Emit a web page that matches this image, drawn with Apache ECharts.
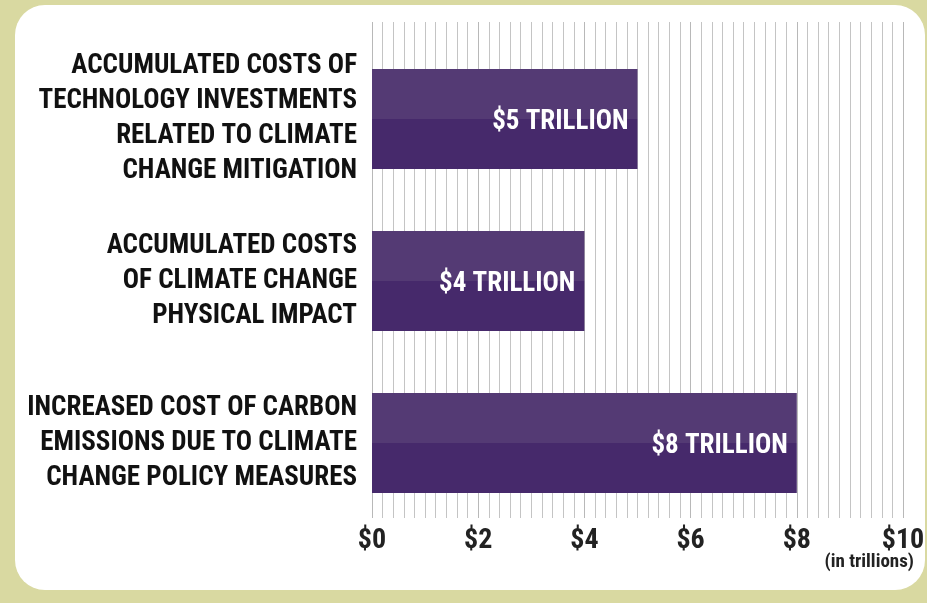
<!DOCTYPE html>
<html>

<head>
  <meta charset="UTF-8">
  <title>Climate Change Costs</title>
  <script src="https://cdn.jsdelivr.net/npm/echarts@6/dist/echarts.min.js"></script>
  <style>
    body {
      margin: 0;
      padding: 0;
      background: #d9d9a1;
    }

    #chart {
      width: 927px;
      height: 603px;
    }
  </style>
</head>

<body>
  <div id="chart"></div>

  <script>
    // data
    var categories = [
      'ACCUMULATED COSTS OF\nTECHNOLOGY INVESTMENTS\nRELATED TO CLIMATE\nCHANGE MITIGATION',
      'ACCUMULATED COSTS\nOF CLIMATE CHANGE\nPHYSICAL IMPACT',
      'INCREASED COST OF CARBON\nEMISSIONS DUE TO CLIMATE\nCHANGE POLICY MEASURES'
    ];
    var values = [5, 4, 8];
    var barLabels = ['$5 TRILLION', '$4 TRILLION', '$8 TRILLION'];
    var tickLabels = ['$0', '$2', '$4', '$6', '$8', '$10'];
    var unitNote = '(in trillions)';

    var font = '"Roboto Condensed", "Liberation Sans", sans-serif';
    var chart = echarts.init(document.getElementById('chart'), null, { renderer: 'canvas' });

    var barColor = new echarts.graphic.LinearGradient(0, 0, 0, 1, [
      { offset: 0, color: '#543a74' },
      { offset: 0.5, color: '#543a74' },
      { offset: 0.5, color: '#46296b' },
      { offset: 1, color: '#46296b' }
    ]);

    chart.setOption({
      backgroundColor: '#d9d9a1',
      animation: false,
      graphic: [{
        type: 'rect',
        z: -10,
        shape: { x: 15, y: 5, width: 910, height: 585, r: 30 },
        style: { fill: '#ffffff' }
      }, {
        type: 'text',
        right: 13,
        top: 553,
        style: {
          text: unitNote,
          font: 'bold 19px ' + font,
          fill: '#222'
        }
      }],
      grid: [
        // grid for the vertical lines and the ticks
        { left: 372, right: 24, top: 22, bottom: 85, outerBoundsMode: 'none', containLabel: false },
        // grid for the bars
        { left: 372, right: 24, top: 38, bottom: 79, outerBoundsMode: 'none', containLabel: false }
      ],
      xAxis: [{
        gridIndex: 0,
        type: 'value',
        min: 0,
        max: 10,
        interval: 2,
        axisLine: { show: false },
        axisTick: { show: false },
        axisLabel: {
          margin: 9,
          color: '#222',
          fontFamily: font,
          fontWeight: 'bold',
          fontSize: 28,
          formatter: function (v) { return tickLabels[Math.round(v / 2)]; }
        },
        splitLine: { show: true, lineStyle: { color: '#b8b8b8', width: 1 } },
        minorTick: { show: false, splitNumber: 10 },
        minorSplitLine: { show: true, lineStyle: { color: '#c4c4c4', width: 1 } }
      }, {
        gridIndex: 1,
        type: 'value',
        min: 0,
        max: 10,
        show: false
      }],
      yAxis: [{
        gridIndex: 0,
        type: 'category',
        data: categories,
        show: false
      }, {
        gridIndex: 1,
        type: 'category',
        inverse: true,
        data: categories,
        axisLine: { show: false },
        axisTick: { show: false },
        axisLabel: {
          margin: 15,
          align: 'right',
          color: '#111',
          fontFamily: font,
          fontWeight: 'bold',
          fontSize: 27,
          lineHeight: 35
        }
      }],
      series: [{
        type: 'bar',
        xAxisIndex: 1,
        yAxisIndex: 1,
        data: values,
        barWidth: 100,
        itemStyle: { color: barColor },
        label: {
          show: true,
          position: 'insideRight',
          distance: 9,
          offset: [0, 3],
          color: '#ffffff',
          fontFamily: font,
          fontWeight: 'bold',
          fontSize: 27,
          formatter: function (p) { return barLabels[p.dataIndex]; }
        }
      }]
    });
  </script>
</body>

</html>
